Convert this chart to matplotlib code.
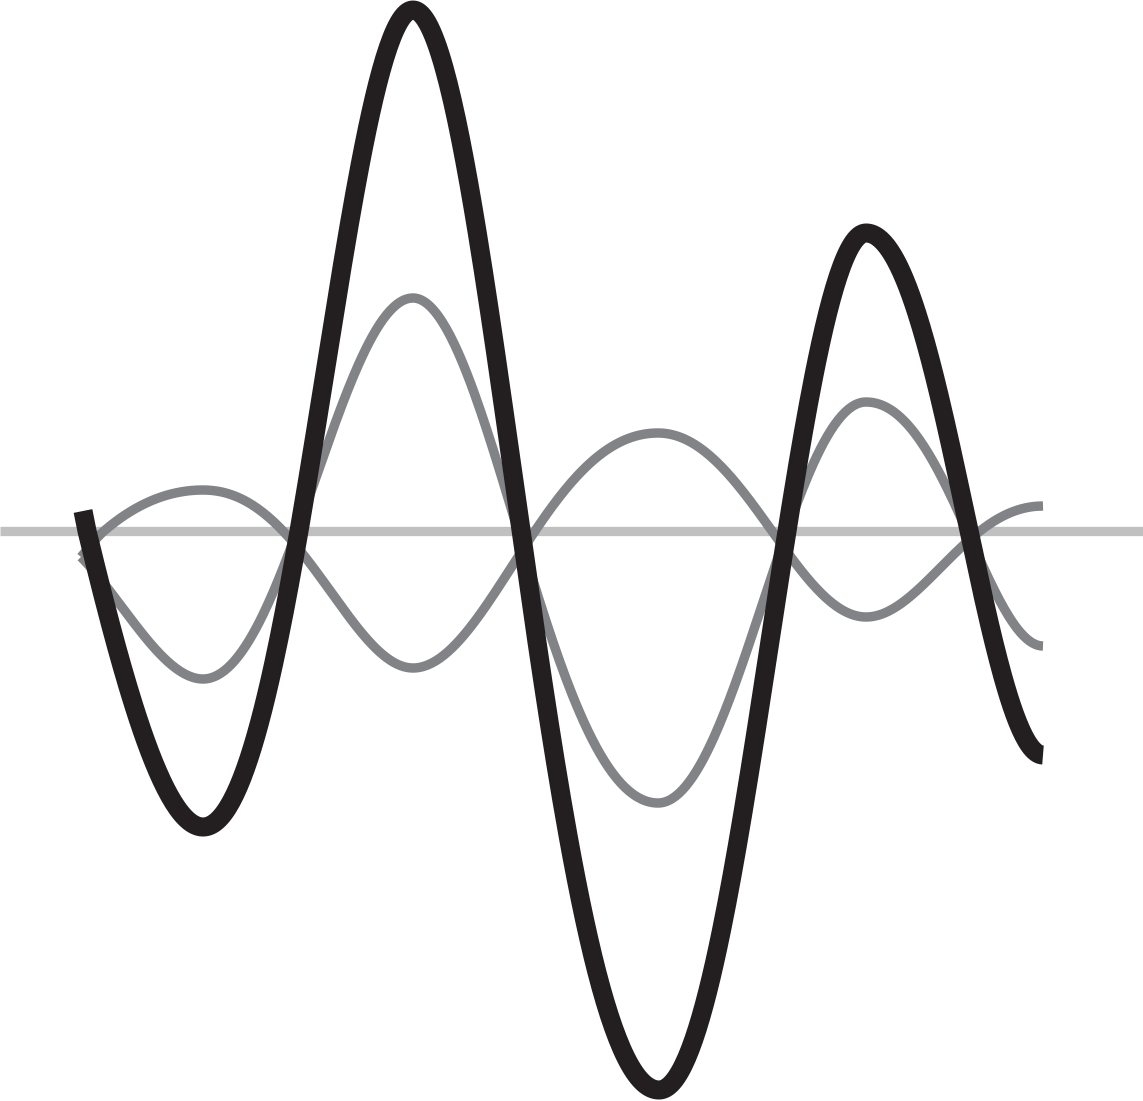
import numpy as np
import matplotlib
matplotlib.use("Agg")
import matplotlib.pyplot as plt

# points: x position and height above the baseline
# (peaks, troughs and the places where each wave crosses the baseline)
wave_a_x = [81, 104, 203, 283, 413, 535, 658, 772, 866, 980, 1043]
wave_a_y = [-26, 0, 41, 0, -137, 0, 98, 0, -86, 0, 25]

wave_b_x = [81, 203, 297, 413, 518, 658, 787, 866, 967, 1043]
wave_b_y = [-26, -148, 0, 233, 0, -272, 0, 129, 0, -115]

total_x = [83, 87, 203, 299, 413, 521, 659, 787, 866, 969, 1043]
total_y = [20, 0, -296, 0, 521, 0, -559, 0, 298, 0, -224]


def hermite(xs, ys, n=60):
    # lead-in before the first peak/trough
    xs = np.asarray(xs, float)
    ys = np.asarray(ys, float)
    m = np.zeros(len(xs))
    m[0] = (ys[1] - ys[0]) / (xs[1] - xs[0])
    for i in range(1, len(xs) - 1):
        m[i] = np.pi / 2 * (ys[i + 1] - ys[i - 1]) / (xs[i + 1] - xs[i - 1])
    t = np.linspace(0, 1, n)
    h00 = 2 * t**3 - 3 * t**2 + 1
    h10 = t**3 - 2 * t**2 + t
    h01 = -2 * t**3 + 3 * t**2
    h11 = t**3 - t**2
    px, py = [], []
    for i in range(len(xs) - 1):
        h = xs[i + 1] - xs[i]
        px.append(xs[i] + t * h)
        py.append(h00 * ys[i] + h10 * h * m[i] + h01 * ys[i + 1] + h11 * h * m[i + 1])
    return np.concatenate(px), np.concatenate(py)


def half_wave(x1, y1, xz, x2, y2, n=120):
    # cosine from one peak to the next trough, stretched so it crosses at xz
    mid = (y1 + y2) / 2
    amp = (y1 - y2) / 2
    uz = np.arccos(np.clip(-mid / amp, -1, 1)) / np.pi
    tz = (xz - x1) / (x2 - x1)
    a = np.clip((uz - tz) / (tz * (1 - tz)), -0.9, 0.9)
    t = np.linspace(0, 1, n)
    u = t + a * t * (1 - t)
    return x1 + t * (x2 - x1), mid + amp * np.cos(np.pi * u)


def wave(xs, ys):
    ext = [i for i in range(1, len(xs)) if ys[i] != 0]
    px, py = hermite(xs[:ext[0] + 1], ys[:ext[0] + 1])
    px, py = [px], [py]
    for j in range(len(ext) - 1):
        i, k = ext[j], ext[j + 1]
        hx, hy = half_wave(xs[i], ys[i], xs[i + 1], xs[k], ys[k])
        px.append(hx[1:])
        py.append(hy[1:])
    return np.concatenate(px), np.concatenate(py)


fig = plt.figure(figsize=(11.43, 11.01), dpi=100)
ax = fig.add_axes([0, 0, 1, 1])
ax.set_xlim(0, 1143)
ax.set_ylim(-570, 531)
ax.axis("off")

ax.plot([0, 1143], [0, 0], color="#c0c0c1", lw=6.7, solid_capstyle="butt", zorder=1)

ax_, ay_ = wave(wave_a_x, wave_a_y)
bx_, by_ = wave(wave_b_x, wave_b_y)
tx_, ty_ = wave(total_x, total_y)

ax.plot(ax_, ay_, color="#828387", lw=6.8, solid_capstyle="butt", zorder=2)
ax.plot(bx_, by_, color="#828387", lw=6.8, solid_capstyle="butt", zorder=2)
ax.plot(tx_, ty_, color="#231f20", lw=13.7, solid_capstyle="butt", zorder=3)

fig.savefig("out.png", dpi=100, facecolor="white")
